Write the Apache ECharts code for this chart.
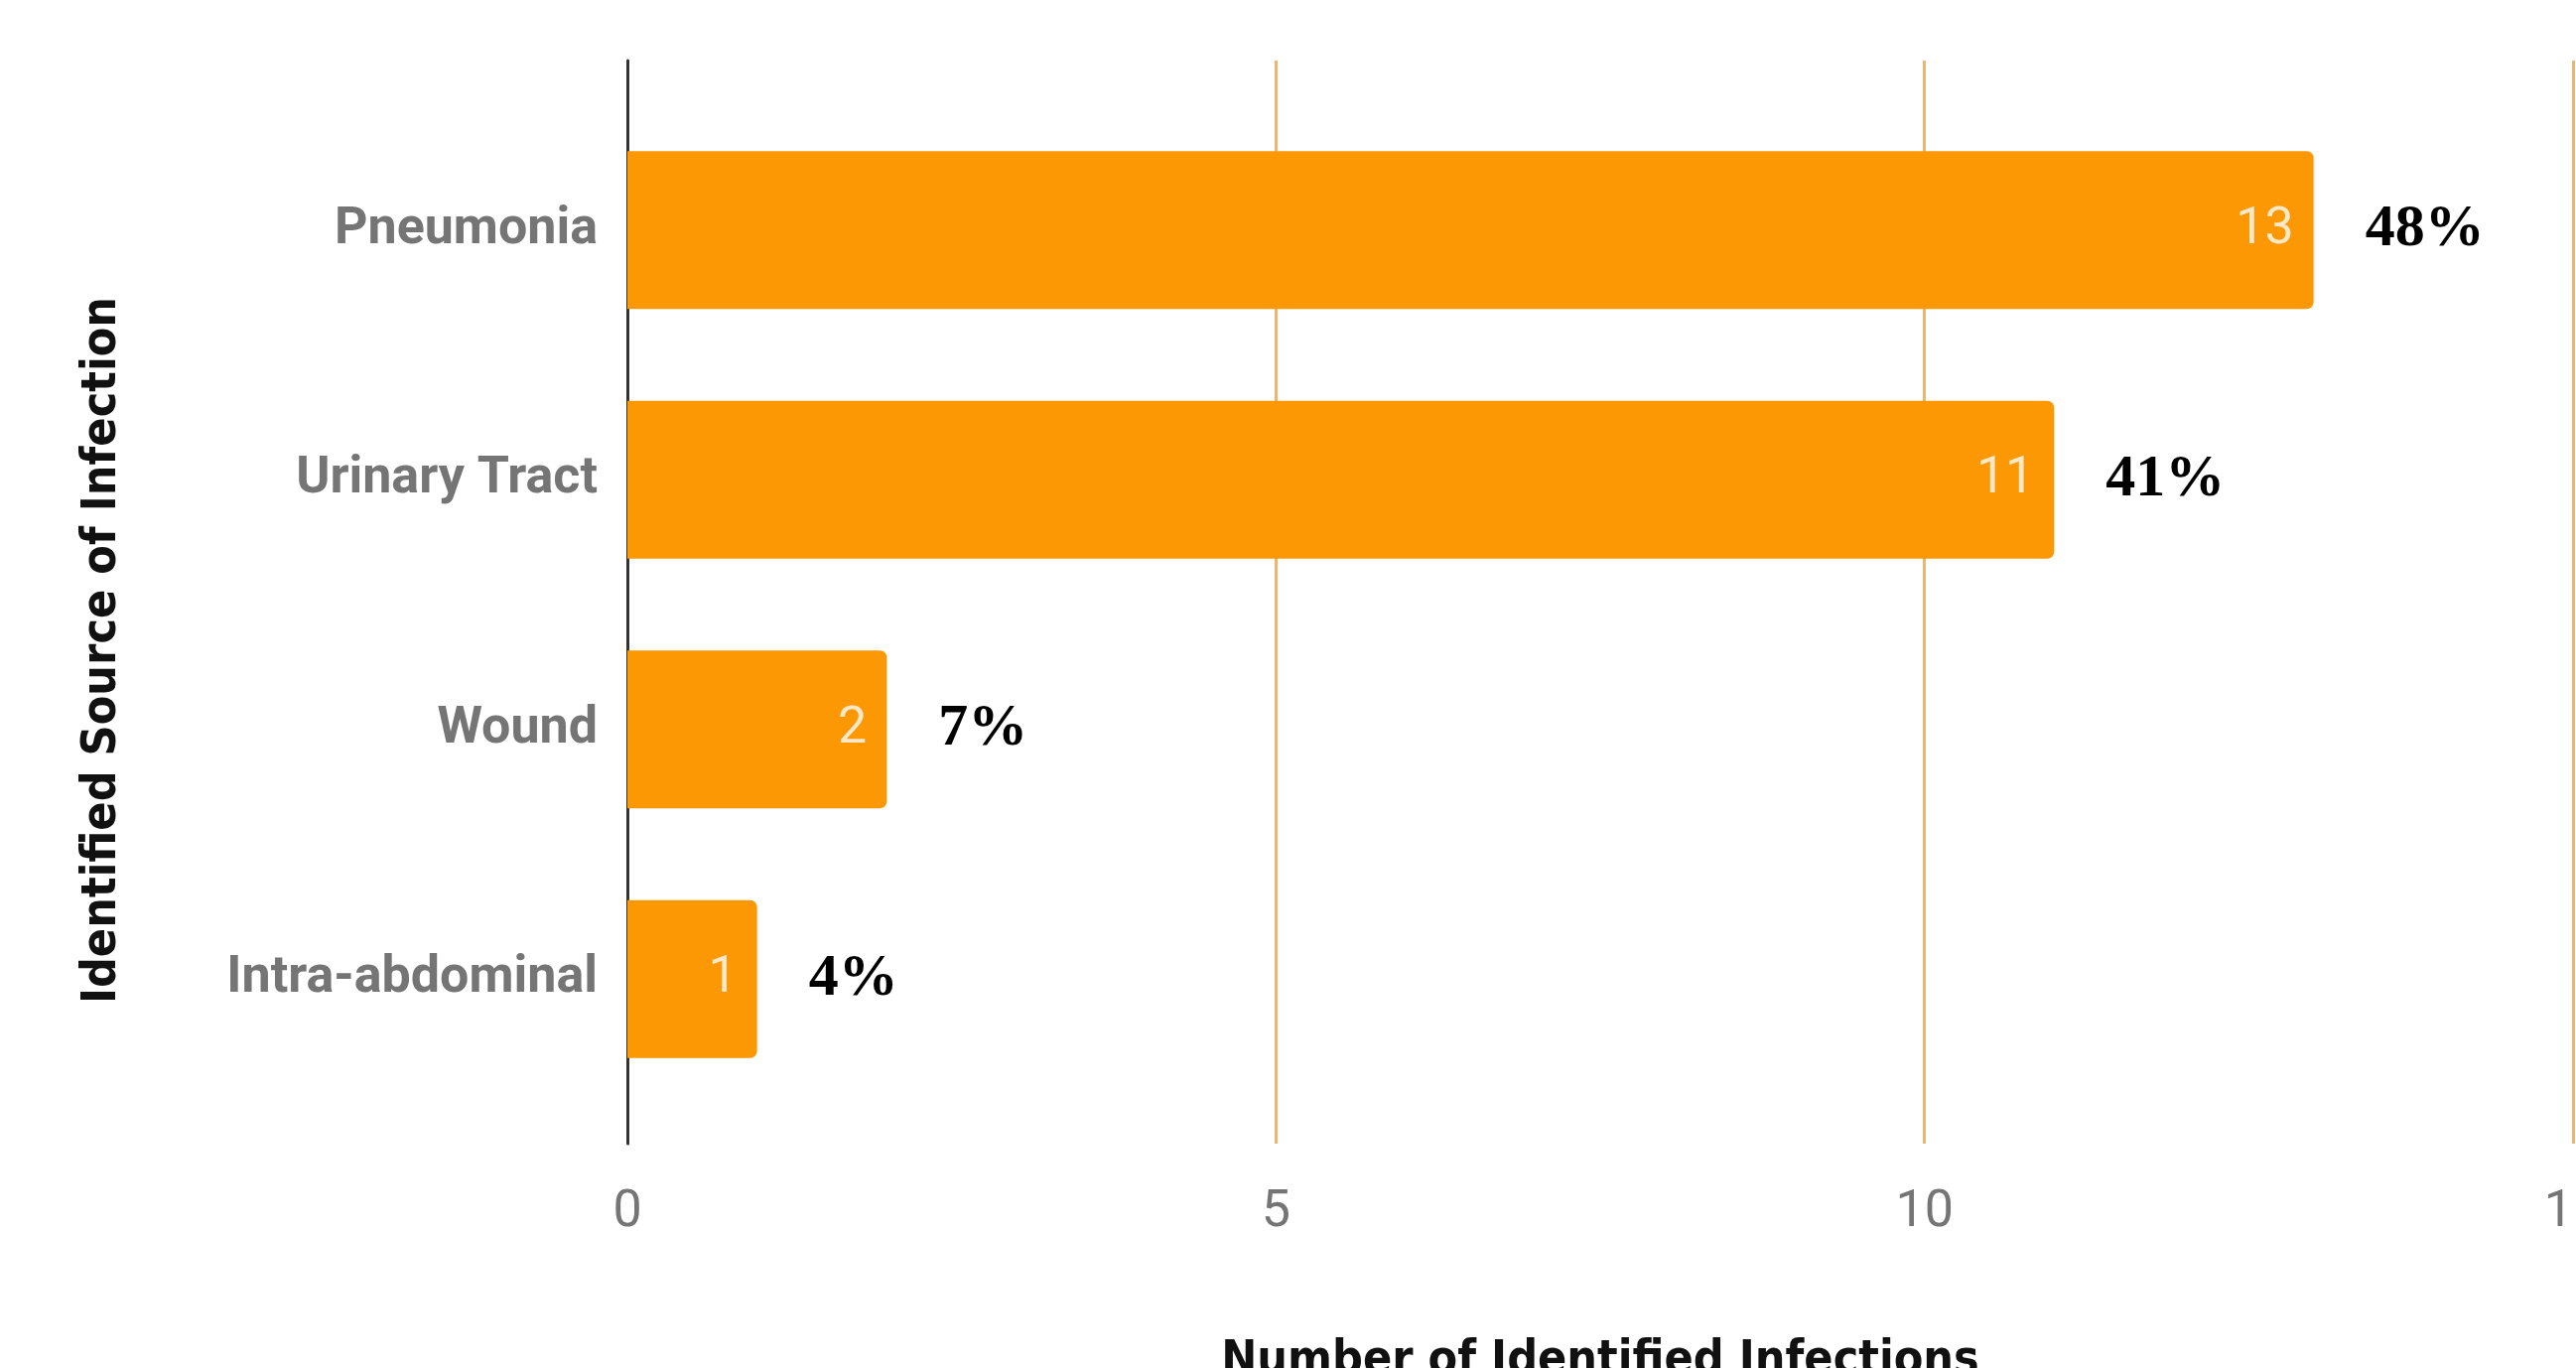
<!DOCTYPE html>
<html>
<head>
<meta charset="utf-8">
<script src="https://cdn.jsdelivr.net/npm/echarts@6/dist/echarts.min.js"></script>
<style>
  html, body { margin: 0; padding: 0; background: #fff; }
  #chart { width: 2595px; height: 1378px; }
</style>
</head>
<body>
<div id="chart"></div>
<script>
// source of infection, counts and share of total
const categories = ["Pneumonia", "Urinary Tract", "Wound", "Intra-abdominal"];
const counts = [13, 11, 2, 1];
const percents = [48, 41, 7, 4];
const xTicks = [0, 5, 10, 15];

const COL_BAR = "#FB9804";
const COL_GRID = "#EDB56D";
const COL_TEXT = "#757575";
const TITLE_FONT = "'DejaVu Sans Condensed', 'Liberation Sans Narrow', 'Roboto', sans-serif";

const chart = echarts.init(document.getElementById("chart"), null, { renderer: "canvas" });

chart.setOption({
  animation: false,
  backgroundColor: "#fff",
  grid: [
    // bars
    { left: 632, right: 3, top: 106, bottom: 266, outerBoundsMode: "none" },
    // gridlines + tick labels (taller than the bar bands)
    { left: 632, right: 3, top: 61, bottom: 226, outerBoundsMode: "none" }
  ],
  xAxis: [
    {
      gridIndex: 0, type: "value", min: 0, max: 15, interval: 5,
      axisLine: { show: false }, axisTick: { show: false },
      axisLabel: { show: false }, splitLine: { show: false }
    },
    {
      gridIndex: 1, type: "value", min: xTicks[0], max: xTicks[xTicks.length - 1], interval: 5,
      axisLine: { show: false }, axisTick: { show: false },
      axisLabel: {
        color: COL_TEXT, fontFamily: "Roboto", fontSize: 52, margin: 44,
        showMaxLabel: true
      },
      splitLine: { show: true, lineStyle: { color: COL_GRID, width: 3 } },
      name: "Number of Identified Infections",
      nameLocation: "middle",
      nameGap: 196,
      nameTextStyle: {
        color: "#111", fontFamily: TITLE_FONT, fontWeight: "bold", fontSize: 48
      }
    }
  ],
  yAxis: [
    {
      gridIndex: 0, type: "category", data: categories, inverse: true,
      axisLine: { show: false }, axisTick: { show: false },
      axisLabel: {
        color: COL_TEXT, fontFamily: "Roboto", fontWeight: "bold", fontSize: 52, margin: 30,
        padding: [10, 0, 0, 0]
      }
    },
    {
      gridIndex: 1, type: "value", min: 0, max: 1,
      axisLine: { show: true, lineStyle: { color: "#333", width: 3 } },
      axisTick: { show: false }, axisLabel: { show: false }, splitLine: { show: false }
    }
  ],
  graphic: [
    {
      type: "text",
      x: 104, y: 655,
      rotation: Math.PI / 2,
      style: {
        text: "Identified Source of Infection",
        fill: "#111",
        font: "bold 48px " + TITLE_FONT,
        align: "center",
        verticalAlign: "middle"
      }
    }
  ],
  series: [
    {
      name: "Infections",
      type: "bar",
      xAxisIndex: 0, yAxisIndex: 0,
      data: counts,
      barWidth: 159,
      itemStyle: { color: COL_BAR, borderRadius: [0, 7, 7, 0] },
      label: {
        show: true, position: "insideRight", distance: 20,
        color: "rgba(255,255,255,0.78)", fontFamily: "Roboto", fontSize: 52,
        padding: [10, 0, 0, 0]
      },
      z: 3
    },
    {
      name: "Share",
      type: "bar",
      xAxisIndex: 0, yAxisIndex: 0,
      data: counts,
      barWidth: 159,
      barGap: "-100%",
      silent: true,
      itemStyle: { color: "rgba(0,0,0,0)" },
      label: {
        show: true, position: "right", distance: 52,
        color: "#000", fontFamily: "Liberation Serif", fontWeight: "bold", fontSize: 60,
        padding: [8, 0, 0, 0],
        formatter: p => percents[p.dataIndex] + "%"
      },
      z: 2
    }
  ]
});

window.addEventListener("resize", () => chart.resize());
</script>
</body>
</html>
